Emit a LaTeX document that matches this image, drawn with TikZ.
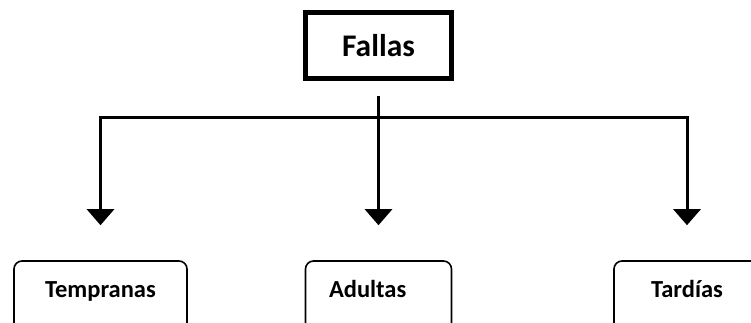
\documentclass[tikz,border=0pt]{standalone}
\usepackage{fontspec}
\setmainfont{Carlito}
\usetikzlibrary{arrows.meta}

\begin{document}
\begin{tikzpicture}[x=1pt,y=-1pt,
    topbox/.style={draw,line width=5pt,minimum width=146pt,minimum height=66pt,
        font=\fontsize{31.5}{36}\selectfont\bfseries},
    leafbox/.style={draw,line width=1.6pt,rounded corners=8pt,anchor=base,
        inner ysep=0pt,text height=36pt,text depth=40pt,
        font=\fontsize{24.5}{28}\selectfont\bfseries},
    link/.style={line width=3pt},
    arrow/.style={link,-{Triangle[width=27pt,length=16pt]}}]
    \useasboundingbox (0,0) rectangle (751,322);
    \clip (0,0) rectangle (751,322);

    % Draw the root box
    \node[topbox] (fallas) at (378.5,45.5) {Fallas};

    % Draw the three groups
    \node[leafbox,minimum width=173pt] (early) at (100.5,297) {Tempranas};
    \node[leafbox,text width=99pt,inner xsep=23.5pt,align=left] (adult) at (378.5,297) {Adultas};
    \node[leafbox,minimum width=146pt] (late) at (687,297) {Tardías};

    % Draw the connectors
    \coordinate (hub) at (378.5,117);
    \draw[link] ([yshift=-15pt]fallas.south) -- (hub);
    \draw[arrow] (hub) -| ([yshift=35pt]early.north);
    \draw[arrow] (hub) -- ([yshift=35pt]adult.north);
    \draw[arrow] (hub) -| ([yshift=35pt]late.north);
\end{tikzpicture}
\end{document}
